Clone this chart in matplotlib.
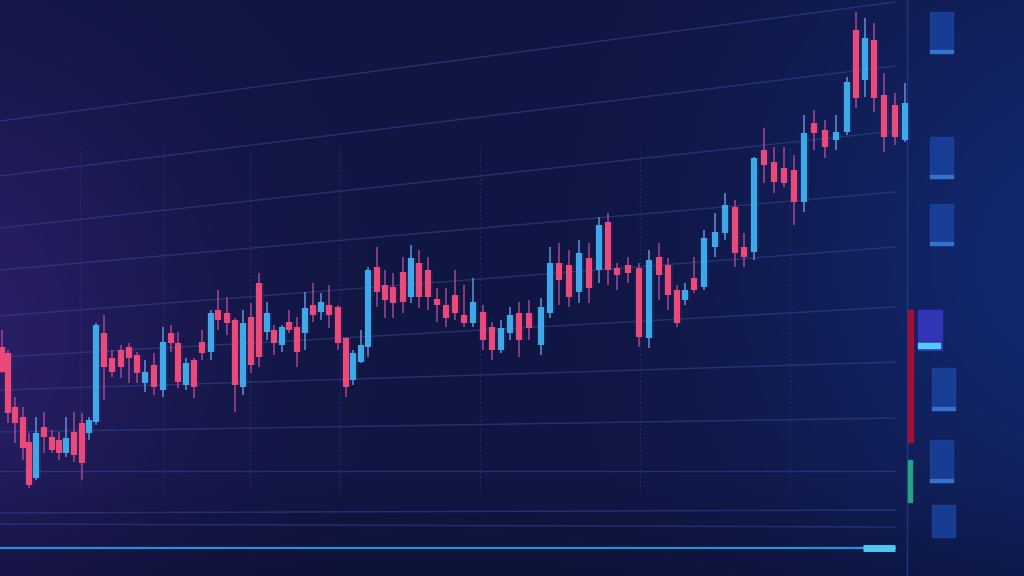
import numpy as np
import matplotlib.pyplot as plt
from matplotlib.patches import Rectangle

# candle data (time = horizontal position, price = height)
times = [2, 8, 15, 23, 29, 36, 44, 52, 59, 66, 74, 82, 89, 96, 104, 112, 121, 129,
         137, 145, 154, 163, 171, 178, 186, 194, 202, 211, 218, 227, 235, 243, 251,
         259, 267, 274, 282, 289, 297, 305, 313, 321, 329, 338, 346, 353, 361, 368,
         377, 385, 393, 403, 411, 419, 428, 437, 446, 455, 464, 473, 483, 492, 501,
         510, 519, 529, 541, 550, 559, 569, 579, 589, 599, 608, 617, 628, 639, 649,
         659, 668, 677, 685, 694, 704, 715, 725, 735, 744, 754, 764, 774, 784, 794,
         804, 814, 825, 836, 847, 856, 865, 874, 884, 895, 905]
opens = [229, 223, 169, 159, 134, 98, 149, 139, 136, 123, 144, 153, 143, 154, 243, 218,
         226, 229, 221, 193, 211, 186, 243, 233, 191, 216, 234, 224, 266, 263, 256, 189,
         259, 293, 244, 246, 231, 254, 249, 243, 271, 264, 271, 269, 238, 196, 214, 229,
         309, 291, 289, 304, 279, 313, 306, 277, 271, 281, 261, 253, 264, 249, 226, 243,
         263, 263, 231, 263, 313, 311, 284, 318, 306, 354, 308, 311, 308, 238, 319, 311,
         286, 276, 298, 289, 329, 343, 369, 329, 324, 426, 414, 408, 406, 374, 453, 446,
         436, 444, 546, 496, 536, 481, 471, 436]
highs = [246, 226, 179, 169, 143, 159, 164, 146, 144, 159, 164, 163, 159, 253, 261, 226,
         231, 233, 224, 216, 223, 249, 251, 244, 218, 218, 246, 266, 286, 279, 258, 266,
         273, 303, 274, 251, 251, 266, 259, 284, 293, 283, 291, 271, 239, 226, 246, 309,
         329, 306, 303, 319, 331, 326, 319, 288, 288, 306, 291, 298, 271, 254, 256, 269,
         274, 276, 278, 329, 333, 326, 336, 333, 359, 363, 313, 319, 313, 326, 333, 318,
         291, 293, 319, 346, 363, 383, 376, 343, 419, 448, 429, 429, 421, 461, 466, 456,
         461, 499, 564, 558, 553, 503, 483, 493]
lows = [203, 153, 133, 116, 88, 96, 123, 123, 116, 119, 114, 96, 136, 151, 176, 199,
        198, 193, 193, 184, 181, 179, 224, 188, 186, 178, 216, 216, 246, 241, 164, 181,
        203, 209, 236, 221, 224, 243, 209, 226, 254, 256, 248, 226, 179, 191, 213, 219,
        269, 258, 258, 263, 273, 268, 266, 254, 249, 256, 249, 249, 226, 216, 223, 236,
        219, 236, 221, 258, 271, 269, 273, 273, 293, 291, 286, 293, 229, 228, 276, 266,
        249, 271, 283, 286, 319, 336, 309, 309, 316, 393, 383, 389, 351, 364, 426, 418,
        426, 441, 468, 479, 464, 424, 431, 434]
closes = [204, 163, 153, 128, 91, 143, 139, 126, 123, 138, 121, 113, 156, 251, 209, 204,
          209, 218, 203, 204, 189, 234, 233, 194, 213, 189, 223, 263, 256, 253, 191, 253,
          211, 219, 263, 233, 249, 246, 224, 268, 261, 274, 261, 233, 189, 223, 231, 306,
          284, 276, 273, 274, 318, 279, 279, 271, 258, 263, 253, 274, 236, 226, 248, 261,
          236, 248, 269, 313, 296, 279, 323, 288, 351, 306, 301, 303, 239, 316, 301, 281,
          253, 286, 286, 338, 344, 371, 323, 319, 418, 411, 394, 393, 374, 443, 443, 429,
          444, 494, 478, 538, 478, 439, 439, 473]

# slanted grid lines: level at the left edge and at the right end of the chart
grid_left = [455, 400, 348, 306, 260, 219, 186, 144, 105, 63, 52]
grid_right = [574, 510, 445, 384, 329, 269, 214, 158, 105, 66, 49]
vgrid = [80, 163, 250, 340, 480, 640, 790]

W, H = 1024, 576
fig = plt.figure(figsize=(10.24, 5.76), dpi=100)

# background gradient
yy, xx = np.mgrid[0:H, 0:W]
base = np.array([16, 22, 66], dtype=float)
img = np.ones((H, W, 3)) * base
purple = np.exp(-(((xx + 60) / 240.0) ** 2 + ((yy - 330) / 250.0) ** 2))
blue = np.exp(-(((xx - 1080) / 300.0) ** 2 + ((yy - 260) / 330.0) ** 2))
bottom = np.clip((yy - 480) / 96.0, 0, 1)
img += purple[..., None] * np.array([26, 8, 36])
img += blue[..., None] * np.array([2, 18, 46])
img -= bottom[..., None] * np.array([3, 4, 10])
bg = fig.add_axes([0, 0, 1, 1])
bg.imshow(np.clip(img, 0, 255).astype(np.uint8), extent=[0, W, 0, H], aspect="auto")
bg.axis("off")

ax = fig.add_axes([0, 0, 1, 1])
ax.set_xlim(0, W)
ax.set_ylim(0, H)
ax.patch.set_alpha(0)
ax.axis("off")

grid_col = "#34428e"
for l, r in zip(grid_left, grid_right):
    ax.plot([0, 895], [l, r], color=grid_col, lw=1.0, alpha=0.6, zorder=1)
for v in vgrid:
    ax.plot([v, v], [85, 430], color=grid_col, lw=0.9, ls=(0, (1.5, 2)), alpha=0.5, zorder=1)

# right edge divider
ax.plot([907, 907], [0, H], color="#2c3f90", lw=1.0, alpha=0.7, zorder=1)

t = np.array(times)
o = np.array(opens)
c = np.array(closes)
up = c >= o
pink, cyan = "#ea4a7a", "#3ea8e8"
colors = np.where(up, cyan, pink)
wick_colors = np.where(up, "#6a98e0", "#b04a98")

ax.vlines(t, lows, highs, colors=wick_colors, lw=1.2, alpha=0.85, zorder=2)
bottoms = np.minimum(o, c)
heights = np.maximum(np.abs(c - o), 2)
# soft glow behind bodies
ax.bar(t, heights, width=9, bottom=bottoms, color=colors, alpha=0.12, zorder=2)
ax.bar(t, heights, width=6.5, bottom=bottoms, color=colors, zorder=3)

# bottom scroll bar
ax.plot([0, 895], [28, 28], color="#2a8fd8", lw=1.6, zorder=2)
ax.plot([863, 895], [28, 28], color="#4fc8f4", lw=5, solid_capstyle="butt", zorder=3)

# side panel
for y0, y1, x0 in [(523, 564, 930), (398, 439, 930), (331, 372, 930),
                   (166, 208, 932), (94, 136, 930), (39, 71, 932)]:
    ax.add_patch(Rectangle((x0, y0), 23, y1 - y0, color="#1a429e", alpha=0.85, zorder=2))
    if y0 > 60:
        ax.add_patch(Rectangle((x0, y0), 23, 3.5, color="#3472cc", zorder=3))
ax.add_patch(Rectangle((918, 226), 24, 40, color="#3636c0", alpha=0.9, zorder=2))
ax.add_patch(Rectangle((918, 228), 22, 5, color="#52cdf2", zorder=3))
ax.add_patch(Rectangle((908, 134), 5, 132, color="#a01036", zorder=3))
ax.add_patch(Rectangle((908, 74), 4, 42, color="#1fa585", zorder=3))

fig.savefig("out.png", dpi=100)
